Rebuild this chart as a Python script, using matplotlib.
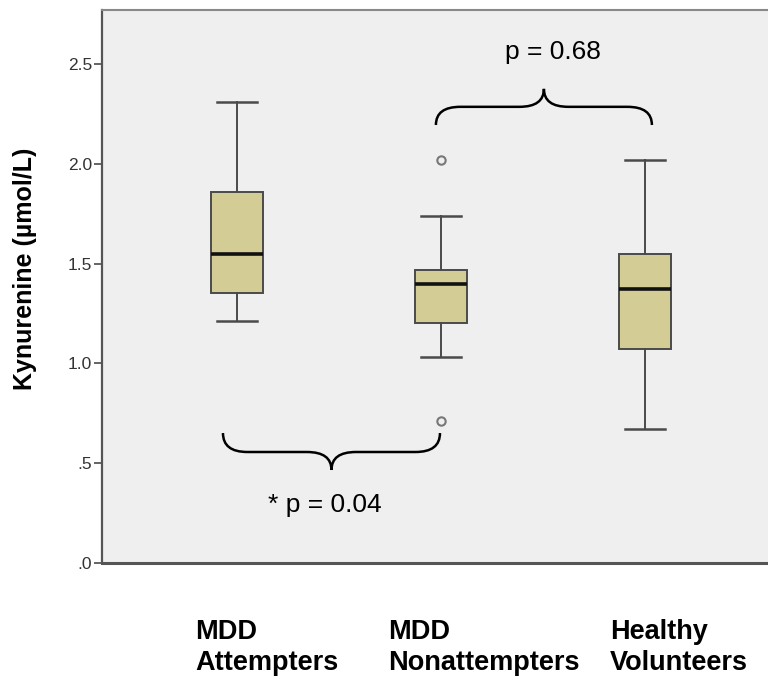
import matplotlib.pyplot as plt
from matplotlib.path import Path
from matplotlib.patches import PathPatch

groups = ['MDD\nAttempters', 'MDD\nNonattempters', 'Healthy\nVolunteers']
whislo = [1.21, 1.03, 0.67]
q1 = [1.35, 1.20, 1.07]
med = [1.55, 1.40, 1.37]
q3 = [1.86, 1.47, 1.55]
whishi = [2.31, 1.74, 2.02]
fliers = [[], [2.02, 0.71], []]
yticks = [0.0, 0.5, 1.0, 1.5, 2.0, 2.5]
yticklabels = ['.0', '.5', '1.0', '1.5', '2.0', '2.5']

bg = '#efefef'
box_fill = '#d3cc95'
edge = '#4a4a4a'
fam = ['Liberation Sans', 'DejaVu Sans']

fig = plt.figure(figsize=(7.68, 6.83), dpi=100)
fig.patch.set_facecolor('white')
ax = fig.add_axes([102 / 768, 1 - 563 / 683, 678 / 768, 553 / 683])
ax.set_facecolor(bg)

stats = []
for i in range(3):
    stats.append(dict(whislo=whislo[i], q1=q1[i], med=med[i], q3=q3[i],
                      whishi=whishi[i], fliers=fliers[i]))

ax.bxp(stats, positions=[1, 2, 3], widths=0.255, patch_artist=True,
       boxprops=dict(facecolor=box_fill, edgecolor=edge, linewidth=1.4),
       medianprops=dict(color='#111111', linewidth=2.6),
       whiskerprops=dict(color=edge, linewidth=1.4),
       capprops=dict(color=edge, linewidth=1.8),
       capwidths=0.2,
       flierprops=dict(marker='o', markersize=6, markerfacecolor='none',
                       markeredgecolor='#777777', markeredgewidth=1.5))

ax.set_xlim(0.338, 3.662)
ax.set_ylim(0, 2.77)
ax.set_yticks(yticks)
ax.set_yticklabels(yticklabels, fontsize=12.5, family=fam, color='#333333')
ax.tick_params(axis='y', length=6, width=1.2, color=edge, pad=1)
ax.set_xticks([])

for s in ['left', 'bottom']:
    ax.spines[s].set_color('#555555')
    ax.spines[s].set_linewidth(1.6)
ax.spines['bottom'].set_linewidth(2.2)
ax.spines['top'].set_color('#888888')
ax.spines['top'].set_linewidth(1.5)
ax.spines['right'].set_visible(False)

# y label placed by hand to match the original
fig.text(25 / 768, 1 - 269 / 683, 'Kynurenine (\u00b5mol/L)', fontsize=18,
         fontweight='bold', family=fam, rotation=90, ha='center', va='center')


def brace(x0, x1, y_end, y_bar, y_tip, r=0.12):
    xm = (x0 + x1) / 2
    verts = [(x0, y_end), (x0, y_bar), (x0 + r, y_bar),
             (xm - r, y_bar), (xm, y_bar), (xm, y_tip),
             (xm, y_bar), (xm + r, y_bar),
             (x1 - r, y_bar), (x1, y_bar), (x1, y_end)]
    codes = [Path.MOVETO, Path.CURVE3, Path.CURVE3,
             Path.LINETO, Path.CURVE3, Path.CURVE3,
             Path.CURVE3, Path.CURVE3,
             Path.LINETO, Path.CURVE3, Path.CURVE3]
    ax.add_patch(PathPatch(Path(verts, codes), facecolor='none',
                           edgecolor='black', linewidth=1.8, clip_on=False))


brace(1.975, 3.034, 2.194, 2.285, 2.375)
brace(0.931, 1.995, 0.651, 0.556, 0.466)

ax.text(2.55, 2.56, 'p = 0.68', fontsize=19, ha='center', va='center', family=fam)
ax.text(1.43, 0.29, '* p = 0.04', fontsize=19, ha='center', va='center', family=fam)

label_x = [195, 388, 610]
for lx, g in zip(label_x, groups):
    fig.text(lx / 768, 1 - 619 / 683, g, fontsize=19.5, fontweight='bold',
             ha='left', va='top', linespacing=1.25, family=fam)

fig.savefig('out.png', dpi=100)
